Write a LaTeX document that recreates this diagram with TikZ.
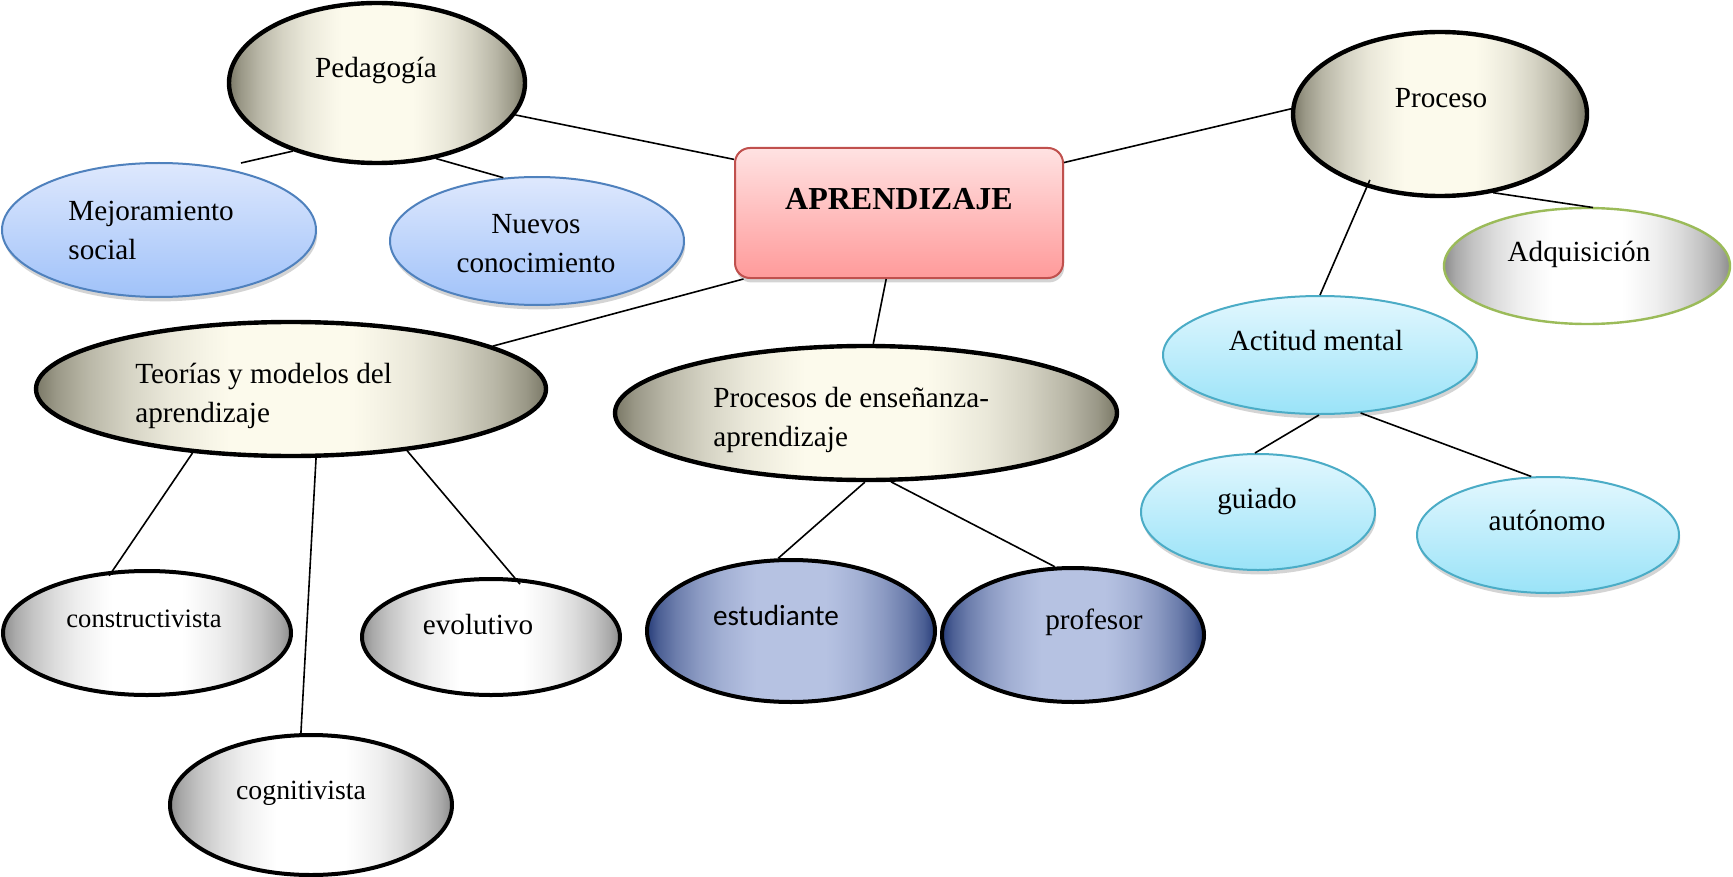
\documentclass[tikz,border=0pt]{standalone}
\usepackage{fontspec}
\setmainfont{Liberation Serif}
\newfontfamily\calibrifont{Carlito}
\usetikzlibrary{shapes.geometric,shadows}

\definecolor{crdark}{RGB}{122,120,102}
\definecolor{crlight}{RGB}{252,250,236}
\colorlet{crA}{crdark!75!crlight}
\colorlet{crB}{crdark!52!crlight}
\colorlet{crC}{crdark!30!crlight}
\colorlet{crD}{crdark!14!crlight}
\colorlet{crE}{crdark!4!crlight}
\definecolor{gydark}{RGB}{140,140,140}
\colorlet{gyA}{gydark!75!white}
\colorlet{gyB}{gydark!52!white}
\colorlet{gyC}{gydark!30!white}
\colorlet{gyD}{gydark!14!white}
\colorlet{gyE}{gydark!4!white}
\definecolor{navdark}{RGB}{40,62,122}
\definecolor{navlight}{RGB}{182,194,226}
\colorlet{nvA}{navdark!75!navlight}
\colorlet{nvB}{navdark!52!navlight}
\colorlet{nvC}{navdark!30!navlight}
\colorlet{nvD}{navdark!14!navlight}
\colorlet{nvE}{navdark!4!navlight}
\definecolor{bltop}{RGB}{222,232,253}
\definecolor{blbot}{RGB}{160,194,249}
\definecolor{blline}{RGB}{79,129,189}
\definecolor{cytop}{RGB}{226,247,254}
\definecolor{cybot}{RGB}{154,227,248}
\definecolor{cyline}{RGB}{75,172,198}
\definecolor{rdtop}{RGB}{255,226,226}
\definecolor{rdbot}{RGB}{255,154,154}
\definecolor{rdline}{RGB}{192,80,77}
\definecolor{grline}{RGB}{155,187,89}

\pgfdeclarehorizontalshading{creamsh}{100bp}{color(0bp)=(crdark); color(25bp)=(crdark); color(27bp)=(crA); color(30bp)=(crB); color(34bp)=(crC); color(38bp)=(crD); color(42bp)=(crE); color(44bp)=(crlight); color(56bp)=(crlight); color(58bp)=(crE); color(62bp)=(crD); color(66bp)=(crC); color(70bp)=(crB); color(73bp)=(crA); color(75bp)=(crdark); color(100bp)=(crdark)}
\pgfdeclarehorizontalshading{graysh}{100bp}{color(0bp)=(gydark); color(25bp)=(gydark); color(27bp)=(gyA); color(30bp)=(gyB); color(34bp)=(gyC); color(38bp)=(gyD); color(42bp)=(gyE); color(44bp)=(white); color(56bp)=(white); color(58bp)=(gyE); color(62bp)=(gyD); color(66bp)=(gyC); color(70bp)=(gyB); color(73bp)=(gyA); color(75bp)=(gydark); color(100bp)=(gydark)}
\pgfdeclarehorizontalshading{navysh}{100bp}{color(0bp)=(navdark); color(25bp)=(navdark); color(27bp)=(nvA); color(30bp)=(nvB); color(34bp)=(nvC); color(38bp)=(nvD); color(42bp)=(nvE); color(44bp)=(navlight); color(56bp)=(navlight); color(58bp)=(nvE); color(62bp)=(nvD); color(66bp)=(nvC); color(70bp)=(nvB); color(73bp)=(nvA); color(75bp)=(navdark); color(100bp)=(navdark)}

\tikzset{
  every node/.style={font=\fontsize{14.6}{19.3}\selectfont},
  shapebase/.style={ellipse, inner sep=0pt},
  creamnode/.style={shapebase, draw=black, line width=2.2pt, shade, shading=creamsh},
  graynode/.style={shapebase, draw=black, line width=2pt, shade, shading=graysh},
  navynode/.style={shapebase, draw=black, line width=2pt, shade, shading=navysh},
  adqnode/.style={shapebase, draw=grline, line width=1.2pt, shade, shading=graysh},
  softshadow/.style={drop shadow={shadow xshift=0.6pt, shadow yshift=-2.2pt, opacity=0.28, fill=black!60}},
  bluenode/.style={shapebase, softshadow, draw=blline, line width=1pt, top color=bltop, bottom color=blbot},
  cyannode/.style={shapebase, softshadow, draw=cyline, line width=1pt, top color=cytop, bottom color=cybot},
  redbox/.style={rectangle, rounded corners=7.5pt, inner sep=0pt, softshadow, draw=rdline, line width=1pt, top color=rdtop, bottom color=rdbot},
  lbl/.style={inner sep=0pt},
  conn/.style={draw=black, line width=0.8pt}
}

\begin{document}
\begin{tikzpicture}[x=0.5pt, y=-0.5pt]
\path[fill=white] (0,0) rectangle (1733,877);
\useasboundingbox (0,0) rectangle (1733,877);

% shapes
\node[creamnode, minimum width=148pt, minimum height=80pt] (ped) at (377,83) {};
\node[bluenode, minimum width=157pt, minimum height=67pt] (mej) at (159,230) {};
\node[bluenode, minimum width=147pt, minimum height=64pt] (nue) at (537,241) {};
\node[redbox, minimum width=164pt, minimum height=65pt] (apr) at (899,213) {};
\node[creamnode, minimum width=255pt, minimum height=67pt] (teo) at (291,389) {};
\node[creamnode, minimum width=251pt, minimum height=67pt] (pro) at (866,413) {};
\node[creamnode, minimum width=147pt, minimum height=82pt] (proc) at (1440,114) {};
\node[adqnode, minimum width=143pt, minimum height=58pt] (adq) at (1587,266) {};
\node[cyannode, minimum width=157pt, minimum height=59pt] (act) at (1320,355) {};
\node[cyannode, minimum width=117pt, minimum height=58pt] (gui) at (1258,512) {};
\node[cyannode, minimum width=131pt, minimum height=58pt] (aut) at (1548,535) {};
\node[navynode, minimum width=131pt, minimum height=67pt] (prof) at (1073,635) {};
\node[navynode, minimum width=144pt, minimum height=71pt] (est) at (791,631) {};
\node[graynode, minimum width=144pt, minimum height=62pt] (con) at (147,633) {};
\node[graynode, minimum width=129pt, minimum height=58pt] (evo) at (491,637) {};
\node[graynode, minimum width=141pt, minimum height=70pt] (cog) at (311,805) {};

\coordinate (mejtip) at (241,163);

% connectors
\draw[conn] (ped.347.3) -- (apr.162.9);
\draw[conn] (ped.219) -- (mejtip);
\draw[conn] (ped.308) -- (nue.118.4);
\draw[conn] (apr.203.5) -- (teo.12.4);
\draw[conn] (apr.259.8) -- (pro.84);
\draw[conn] (apr.17) -- (proc.178.8);
\draw[conn, shorten <=-4pt] (proc.225.6) -- (act.90);
\draw[conn, shorten >=-2.5pt] (proc.304) -- (adq.89);
\draw[conn] (act.269) -- (gui.93);
\draw[conn] (act.305.3) -- (aut.106.1);
\draw[conn, shorten >=-3pt] (teo.213) -- (con.119);
\draw[conn] (teo.290.5) -- (cog.98.8);
\draw[conn, shorten >=-4pt] (teo.332) -- (evo.68);
\draw[conn] (pro.269) -- (est.100.2);
\draw[conn] (pro.290.5) -- (prof.105.8);

% texts
\node[lbl, anchor=base] (tped) at (376,78) {Pedagogía};
\node[lbl, anchor=north west, align=left] (tmej) at (68,193) {\strut Mejoramiento\\social};
\node[lbl, anchor=north, align=center] (tnue) at (536,206) {\strut Nuevos\\conocimiento};
\node[lbl, anchor=base, font=\fontsize{16}{19}\selectfont\bfseries] (tapr) at (899,210) {APRENDIZAJE};
\node[lbl, anchor=north west, align=left] (tteo) at (135,356) {\strut Teorías y modelos del\\aprendizaje};
\node[lbl, anchor=north west, align=left] (tpro) at (713,380) {\strut Procesos de enseñanza-\\aprendizaje};
\node[lbl, anchor=base] (tproc) at (1441,108) {Proceso};
\node[lbl, anchor=base] (tadq) at (1579,262) {Adquisición};
\node[lbl, anchor=base] (tact) at (1316,350) {Actitud mental};
\node[lbl, anchor=base] (tgui) at (1257,508) {guiado};
\node[lbl, anchor=base] (taut) at (1547,530) {autónomo};
\node[lbl, anchor=base] (tprof) at (1094,629) {profesor};
\node[lbl, anchor=base, font=\fontsize{14.6}{19.3}\selectfont\calibrifont] (test) at (776,625) {estudiante};
\node[lbl, anchor=base, font=\fontsize{13.3}{16}\selectfont] (tcon) at (144,627) {constructivista};
\node[lbl, anchor=base] (tevo) at (478,634) {evolutivo};
\node[lbl, anchor=base, font=\fontsize{13.9}{17}\selectfont] (tcog) at (301,799) {cognitivista};
\end{tikzpicture}
\end{document}
